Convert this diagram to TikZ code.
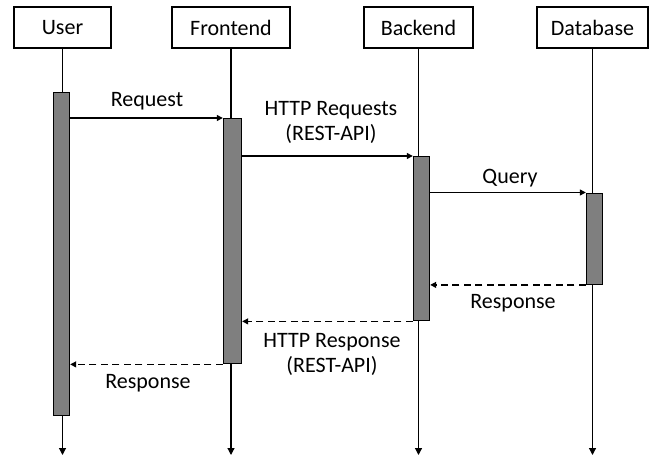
\documentclass[tikz,border=0pt]{standalone}
\usepackage{fontspec}
\setmainfont{Carlito}
\usetikzlibrary{arrows.meta}
\definecolor{bargray}{HTML}{7F7F7F}
\tikzset{
  actor/.style={draw,line width=1.2pt,minimum height=41pt,inner sep=0pt,font=\fontsize{22}{25}\selectfont},
  actbar/.style={draw,line width=1.4pt,fill=bargray,anchor=north,minimum width=16pt,inner sep=0pt},
  lifeline/.style={line width=1.2pt,-{Triangle[length=7pt,width=7pt]}},
  msg/.style={line width=1.2pt,-{Triangle[length=6pt,width=6pt]}},
  reply/.style={msg,dash pattern=on 7pt off 4.5pt},
  lbl/.style={inner sep=0pt,font=\fontsize{22}{25}\selectfont}
}
\begin{document}
\begin{tikzpicture}[x=1pt,y=-1pt]
  \useasboundingbox (0,0) rectangle (652,457);
  \node[actor,minimum width=97pt] (user) at (62.5,27.5) {User};
  \node[actor,minimum width=118pt] (front) at (231,27.5) {Frontend};
  \node[actor,minimum width=109pt] (back) at (418.5,27.5) {Backend};
  \node[actor,minimum width=111pt] (db) at (592.5,27.5) {Database};
  \coordinate (bottom) at (0,455);
  \foreach \a in {user,front,back,db}
    \draw[lifeline] (\a.south) -- (\a.south |- bottom);

  \node[actbar,minimum height=323pt] (ubar) at (61.5,92) {};
  \node[actbar,minimum height=245pt,minimum width=18pt] (fbar) at (232.5,118) {};
  \node[actbar,minimum height=164pt] (bbar) at (421.5,156) {};
  \node[actbar,minimum height=91pt] (dbar) at (594.5,192.5) {};

  \draw[msg] (ubar.east |- fbar.north) -- (fbar.north west);
  \draw[msg] (fbar.east |- bbar.north) -- (bbar.north west);
  \draw[msg] (bbar.east |- dbar.north) -- (dbar.north west);
  \draw[reply] (dbar.south west) -- (bbar.east |- dbar.south);
  \draw[reply] (bbar.south west) -- (fbar.east |- bbar.south);
  \draw[reply] (fbar.south west) -- (ubar.east |- fbar.south);

  \node[lbl,anchor=base] (reqlbl) at (147,107) {Request};
  \node[lbl,anchor=north,align=center] (httpreqlbl) at (331,100.8) {HTTP Requests\\(REST-API)};
  \node[lbl,anchor=base] (querylbl) at (510,183) {Query};
  \node[lbl,anchor=base] (dbreslbl) at (513,308) {Response};
  \node[lbl,anchor=north,align=center] (httpreslbl) at (332,332.8) {HTTP Response\\(REST-API)};
  \node[lbl,anchor=base] (ureslbl) at (148,388) {Response};
\end{tikzpicture}
\end{document}
